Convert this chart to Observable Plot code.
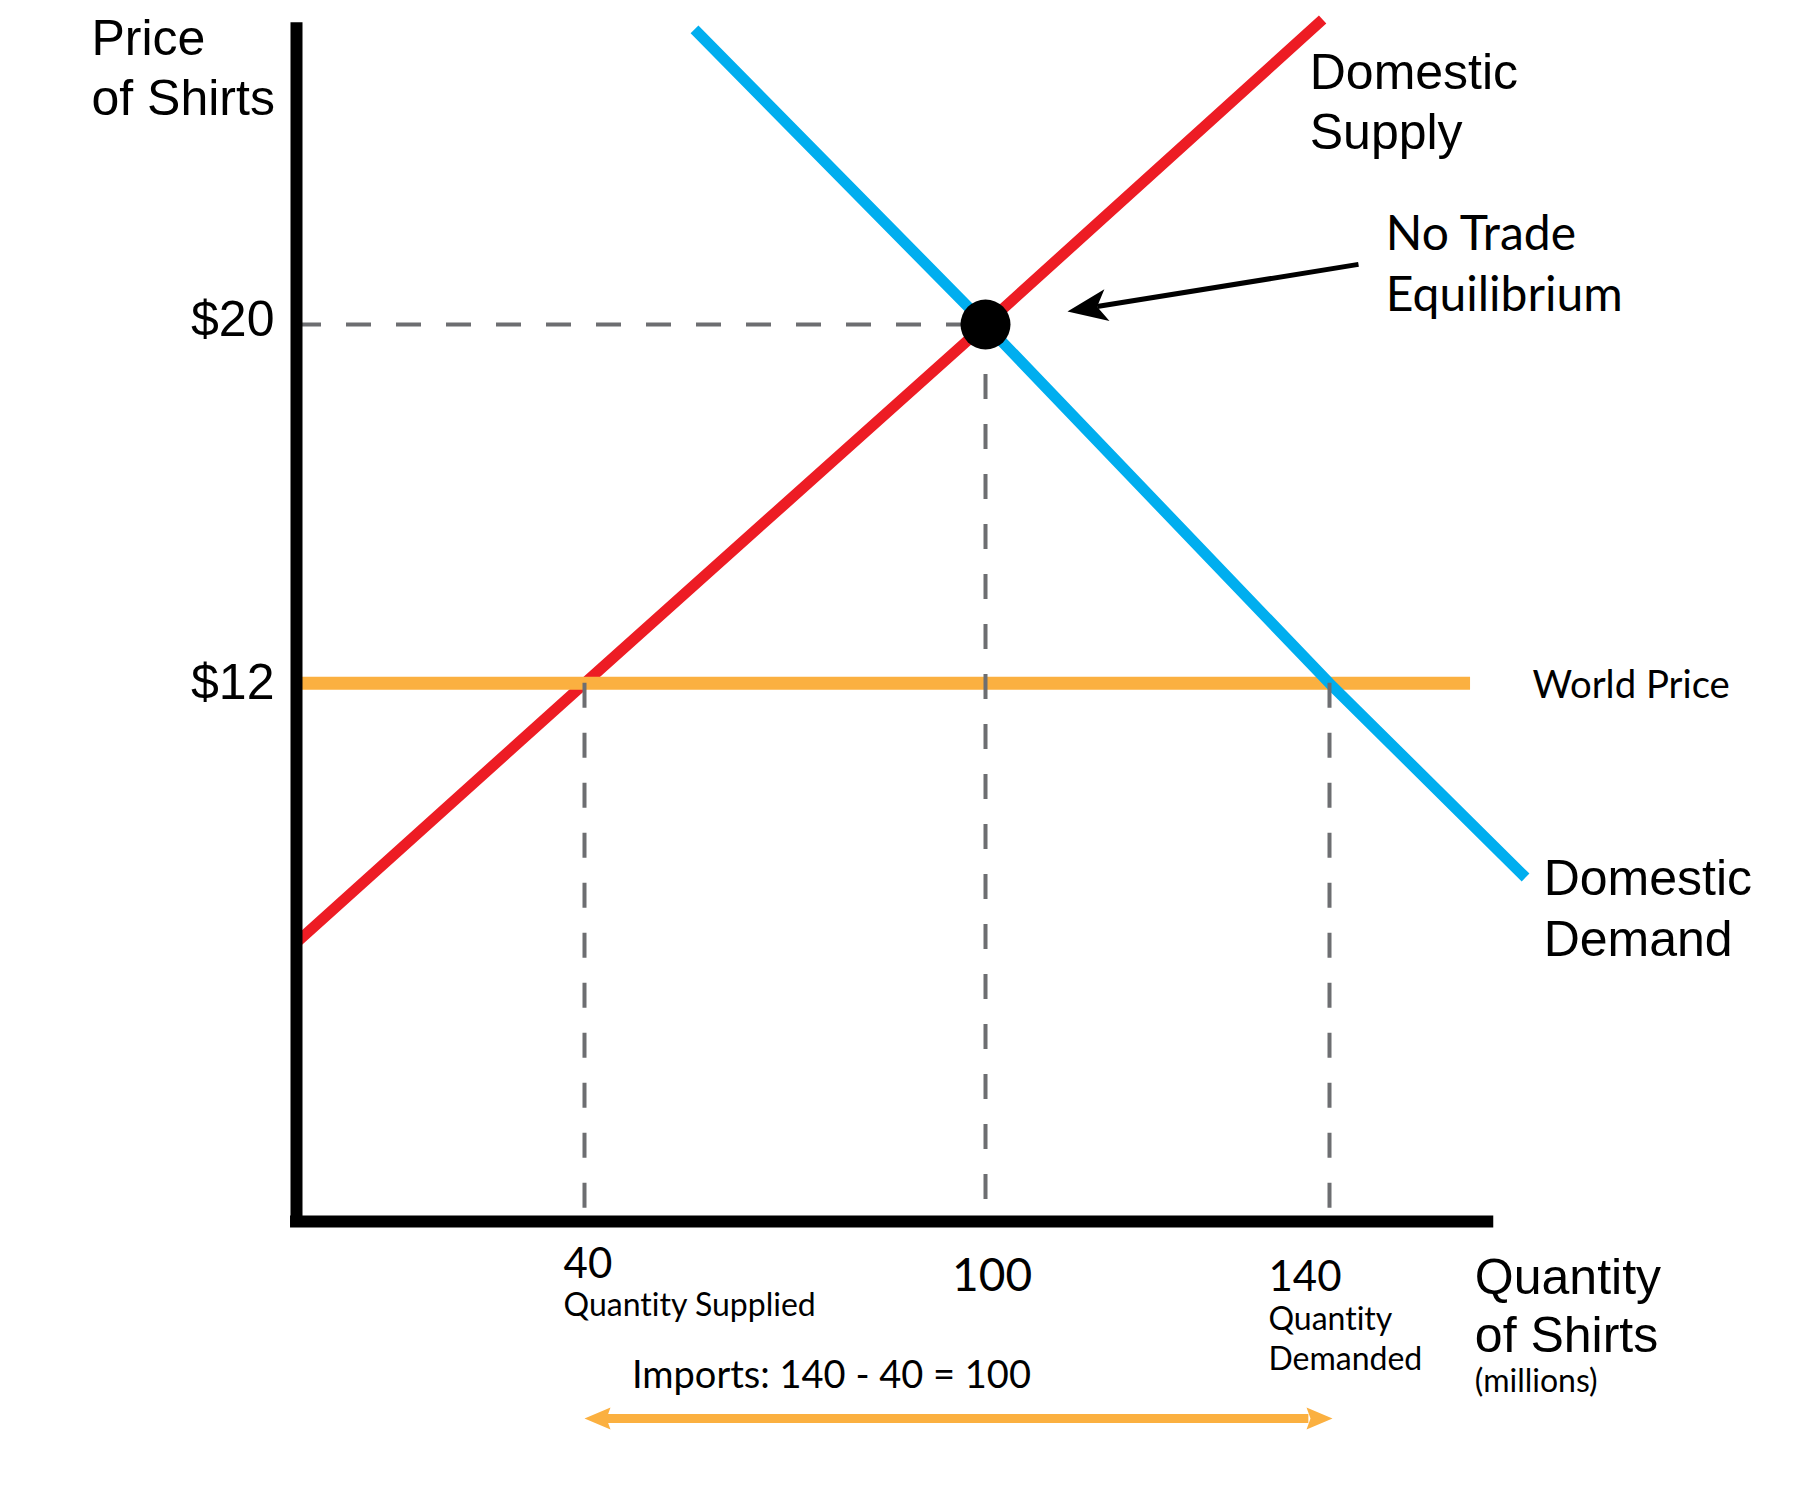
<!DOCTYPE html>
<html>
<head>
<meta charset="utf-8">
<script src="https://cdn.jsdelivr.net/npm/d3@7"></script>
<script src="https://cdn.jsdelivr.net/npm/@observablehq/plot@0.6"></script>
<style>
  html, body { margin: 0; padding: 0; background: #fff; }
  #chart svg { display: block; }
  #chart text { font-variant-ligatures: none; font-feature-settings: "liga" 0, "clig" 0; }
</style>
</head>
<body>
<div id="chart"></div>
<script>
// ---------------- data (quantity in millions of shirts, price in $) ----------------
const supplyQuantity = [0, 40, 100, 139.2];
const supplyPrice    = [6.22, 12, 20, 26.8];
const demandQuantity = [56.46, 100, 140, 162.8];
const demandPrice    = [26.58, 20, 12, 7.67];
const worldPrice = 12;
const worldPriceEnd = 156.4;
const noTradeQuantity = 100;
const noTradePrice = 20;
const quantitySupplied = 40;
const quantityDemanded = 140;
const priceTickValues = [20, 12];
const priceTickLabels = ["$20", "$12"];
const quantityTickValues = [40, 100, 140];
const quantityTickLabels = ["40", "100", "140"];

// ---------------- tables built from the arrays ----------------
const supply = supplyQuantity.map((q, i) => ({q, p: supplyPrice[i]}));
const demand = demandQuantity.map((q, i) => ({q, p: demandPrice[i]}));

// annotation anchors (data units)
const helv = "Liberation Sans, Arial, Helvetica, sans-serif";
const myriad = "Lato, 'Noto Sans', sans-serif";

const bigLabels = [
  {q: -28.47, p: 26.0, text: "Price"},
  {q: -28.47, p: 24.66, text: "of Shirts"},
  {q: 137.7, p: 25.24, text: "Domestic"},
  {q: 137.7, p: 23.92, text: "Supply"},
  {q: 164.9, p: 7.27, text: "Domestic"},
  {q: 164.9, p: 5.93, text: "Demand"},
  {q: 156.9, p: -1.61, text: "Quantity"},
  {q: 156.9, p: -2.92, text: "of Shirts"}
];
const priceLabels = priceTickValues.map((p, i) => ({q: -3.06, p: p - 0.25 - (i ? 0.11 : 0), text: priceTickLabels[i]}));
const eqLabels = [
  {q: 146.55, p: 21.65, text: "No Trade"},
  {q: 146.55, p: 20.29, text: "Equilibrium"}
];
const qTickLabels = [
  {q: 37.1, p: -1.25, text: quantityTickLabels[0], size: 42},
  {q: 95.0, p: -1.54, text: quantityTickLabels[1], size: 46},
  {q: 132.9, p: -1.54, text: quantityTickLabels[2], size: 42}
];
const smallLabels = [
  {q: 37.1, p: -2.10, text: "Quantity Supplied"},
  {q: 132.9, p: -2.43, text: "Quantity"},
  {q: 132.9, p: -3.32, text: "Demanded"},
  {q: 156.9, p: -3.81, text: "(millions)"}
];

// arrowhead symbol (tip at origin), angle in screen degrees
function headSymbol(angleDeg, L, W, notch) {
  const a = angleDeg * Math.PI / 180, ux = Math.cos(a), uy = Math.sin(a), nx = -uy, ny = ux;
  return {
    draw(ctx) {
      ctx.moveTo(0, 0);
      ctx.lineTo(-L * ux + W * nx, -L * uy + W * ny);
      ctx.lineTo(-(L - notch) * ux, -(L - notch) * uy);
      ctx.lineTo(-L * ux - W * nx, -L * uy - W * ny);
      ctx.closePath();
    }
  };
}

const importsP = -4.39;
const gray = "#6d6e71";

const chart = Plot.plot({
  width: 1800,
  height: 1501,
  style: {background: "#fff", overflow: "visible"},
  x: {type: "linear", domain: [0, 40, 100, 140, 160], range: [296, 584, 985, 1329, 1501], axis: null},
  y: {type: "linear", domain: [0, 20], range: [1221, 324], axis: null},
  marks: [
    // domestic supply
    Plot.line(supply, {x: "q", y: "p", stroke: "#ed1c24", strokeWidth: 11, strokeLinecap: "butt"}),
    // world price
    Plot.ruleY([worldPrice], {x1: 0, x2: worldPriceEnd, stroke: "#fbb040", strokeWidth: 13}),
    // domestic demand
    Plot.line(demand, {x: "q", y: "p", stroke: "#00aeef", strokeWidth: 11, strokeLinecap: "butt"}),
    // dashed guides
    Plot.ruleY([noTradePrice], {x1: 0, x2: noTradeQuantity, stroke: gray, strokeWidth: 4, strokeDasharray: "25,25"}),
    Plot.ruleX([quantitySupplied, quantityDemanded], {y1: worldPrice, y2: 0, stroke: gray, strokeWidth: 4, strokeDasharray: "25,25"}),
    Plot.ruleX([noTradeQuantity], {y1: noTradePrice, y2: 0, stroke: gray, strokeWidth: 4, strokeDasharray: "25,25"}),
    // no trade equilibrium point
    Plot.dot([{q: noTradeQuantity, p: noTradePrice}], {x: "q", y: "p", r: 25, fill: "#000", stroke: "none"}),
    // arrow to equilibrium
    Plot.link([{q1: 143.37, p1: 21.34, q2: 112.98, p2: 20.40}], {x1: "q1", y1: "p1", x2: "q2", y2: "p2", stroke: "#000", strokeWidth: 5}),
    Plot.dot([{q: 109.53, p: 20.29}], {x: "q", y: "p", r: 10, symbol: headSymbol(170.8, 40, 16, 10), fill: "#000", stroke: "none"}),
    // imports arrow
    Plot.ruleY([importsP], {x1: 43.0, x2: 137.6, stroke: "#fbb040", strokeWidth: 9}),
    Plot.dot([{q: quantitySupplied, p: importsP}], {x: "q", y: "p", r: 10, symbol: headSymbol(180, 26, 11, 4), fill: "#fbb040", stroke: "none"}),
    Plot.dot([{q: 140.35, p: importsP}], {x: "q", y: "p", r: 10, symbol: headSymbol(0, 26, 11, 4), fill: "#fbb040", stroke: "none"}),
    // axes
    Plot.ruleX([0], {y1: -0.11, y2: 26.73, stroke: "#000", strokeWidth: 12}),
    Plot.ruleY([0], {x1: -0.83, x2: 159.1, stroke: "#000", strokeWidth: 12}),
    // texts
    Plot.text(bigLabels, {x: "q", y: "p", text: "text", textAnchor: "start", lineAnchor: "bottom", fontSize: 50, fontFamily: helv, fill: "#000"}),
    Plot.text(priceLabels, {x: "q", y: "p", text: "text", textAnchor: "start", lineAnchor: "bottom", fontSize: 50, fontFamily: helv, fill: "#000", textAnchor: "end"}),
    Plot.text(eqLabels, {x: "q", y: "p", text: "text", textAnchor: "start", lineAnchor: "bottom", fontSize: 48, fontFamily: myriad, fill: "#000"}),
    Plot.text([{q: 163.6, p: 11.68, text: "World Price"}], {x: "q", y: "p", text: "text", textAnchor: "start", lineAnchor: "bottom", fontSize: 38.3, fontFamily: myriad, fill: "#000"}),
    Plot.text(qTickLabels, {x: "q", y: "p", text: "text", textAnchor: "start", lineAnchor: "bottom", fontSize: d => d.size, fontFamily: myriad, fill: "#000"}),
    Plot.text(smallLabels, {x: "q", y: "p", text: "text", textAnchor: "start", lineAnchor: "bottom", fontSize: 32, fontFamily: myriad, fill: "#000"}),
    Plot.text([{q: 47.1, p: -3.72, text: `Imports: ${quantityDemanded} - ${quantitySupplied} = ${quantityDemanded - quantitySupplied}`}], {x: "q", y: "p", text: "text", textAnchor: "start", lineAnchor: "bottom", fontSize: 38, fontFamily: myriad, fill: "#000"})
  ]
});
document.getElementById("chart").appendChild(chart);
</script>
</body>
</html>
